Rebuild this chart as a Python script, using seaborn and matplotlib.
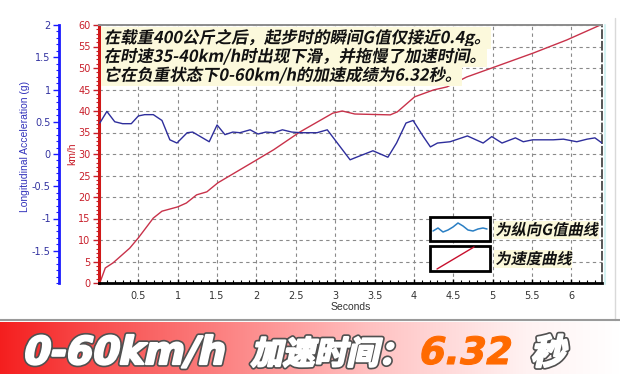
import numpy as np
import matplotlib
matplotlib.use("Agg")
import matplotlib.pyplot as plt
import seaborn as sns
from matplotlib.patheffects import AbstractPathEffect
from matplotlib.transforms import Affine2D
from matplotlib.patches import Rectangle
from matplotlib.lines import Line2D
from matplotlib.ticker import MultipleLocator

# ---------------- data ----------------
t_acc = [0.01, 0.10, 0.20, 0.30, 0.41, 0.50, 0.58, 0.69, 0.80, 0.90, 0.99, 1.12, 1.19,
         1.40, 1.50, 1.60, 1.70, 1.79, 1.92, 2.02, 2.12, 2.22, 2.33, 2.45, 2.56, 2.77,
         2.90, 3.19, 3.25, 3.48, 3.67, 3.78, 3.90, 3.99, 4.12, 4.21, 4.30, 4.46, 4.68,
         4.88, 4.99, 5.12, 5.29, 5.39, 5.51, 5.77, 5.90, 6.07, 6.20, 6.30, 6.39]
g_acc = [0.48, 0.66, 0.50, 0.47, 0.47, 0.59, 0.61, 0.61, 0.52, 0.22, 0.17, 0.33, 0.34,
         0.19, 0.45, 0.30, 0.34, 0.33, 0.375, 0.31, 0.34, 0.33, 0.375, 0.34, 0.33, 0.33,
         0.375, -0.09, -0.06, 0.05, -0.05, 0.17, 0.48, 0.52, 0.27, 0.11, 0.17, 0.19, 0.28,
         0.17, 0.27, 0.17, 0.25, 0.19, 0.22, 0.22, 0.23, 0.19, 0.23, 0.25, 0.17]

t_spd = [0.01, 0.08, 0.18, 0.39, 0.50, 0.69, 0.80, 1.00, 1.11, 1.24, 1.37, 1.51, 2.00,
         2.22, 2.55, 2.97, 3.09, 3.25, 3.70, 3.79, 4.01, 4.25, 4.42, 4.67, 4.99, 5.52,
         5.94, 6.37]
v_spd = [0.0, 3.5, 4.7, 8.1, 10.5, 15.1, 16.7, 17.7, 18.6, 20.5, 21.2, 23.3, 28.6,
         31.0, 35.1, 39.5, 40.0, 39.3, 39.1, 39.8, 43.3, 44.9, 45.6, 47.9, 50.0, 53.5,
         56.5, 60.0]

x_ticks = [0.5, 1, 1.5, 2, 2.5, 3, 3.5, 4, 4.5, 5, 5.5, 6]
x_labels = ["0.5", "1", "1.5", "2", "2.5", "3", "3.5", "4", "4.5", "5", "5.5", "6"]
kmh_ticks = [0, 5, 10, 15, 20, 25, 30, 35, 40, 45, 50, 55, 60]
g_ticks = [-1.5, -1, -0.5, 0, 0.5, 1, 1.5, 2]
g_labels = ["-1.5", "-1", "-0.5", "0", "0.5", "1", "1.5", "2"]

note_lines = ["在载重400公斤之后，起步时的瞬间G值仅接近0.4g。",
              "在时速35-40km/h时出现下滑，并拖慢了加速时间。",
              "它在负重状态下0-60km/h的加速成绩为6.32秒。"]
legend_labels = ["为纵向G值曲线", "为速度曲线"]
banner_parts = ["0-60km/h", "加速时间：", "6.32", "秒"]

# ---------------- style ----------------
sns.set_style("white")
plt.rcParams["font.family"] = ["DejaVu Sans"]
CJK = ["Noto Sans CJK SC", "DejaVu Sans"]

W, H = 620, 374
def fx(x): return x / W
def fy(y): return 1 - y / H


class ItalicFX(AbstractPathEffect):
    """Skew a text path to fake an italic, with optional strokes (drawn in order)."""
    def __init__(self, shear=0.2, strokes=()):
        super().__init__((0, 0))
        self.shear = shear
        self.strokes = strokes

    def draw_path(self, renderer, gc, tpath, affine, rgbFace=None):
        ext = tpath.transformed(affine).get_extents()
        y0 = ext.y0
        tr = affine + Affine2D().translate(0, -y0).skew(np.arctan(self.shear), 0).translate(0, y0)
        for col, lw in self.strokes:
            g1 = renderer.new_gc()
            g1.copy_properties(gc)
            g1.set_foreground(col)
            g1.set_linewidth(lw)
            g1.set_joinstyle("round")
            renderer.draw_path(g1, tpath, tr, None)
            g1.restore()
        renderer.draw_path(gc, tpath, tr, rgbFace)


fig = plt.figure(figsize=(6.2, 3.74), dpi=100)
fig.patch.set_facecolor("white")

# banner gradient
bax = fig.add_axes([0, 0, 1, 52 / H])
xs = np.linspace(0, 1, 620)
r = np.interp(xs, [0, 0.5, 1], [0.96, 1.0, 1.0])
gb = np.interp(xs, [0, 0.15, 0.4, 0.6, 0.85, 1.0], [0.12, 0.30, 0.55, 0.76, 0.95, 1.0])
img = np.stack([r, gb, gb], axis=-1)[None, :, :]
img = np.repeat(img, 10, axis=0)
bax.imshow(img, aspect="auto", extent=[0, 1, 0, 1])
bax.axis("off")

# main axes (speed)
RED = "#c81e2a"
BLUE_AX = "#1a1aff"
BLUE_LAB = "#3333a0"
ax = fig.add_axes([fx(99), fy(283), (602 - 99) / W, (283 - 25) / H])
ax.set_facecolor("white")
sns.lineplot(x=t_spd, y=v_spd, ax=ax, color="#c8324a", lw=1.0)
ax.set_xlim(0, 6.39)
ax.set_ylim(0, 60)
ax.set_xticks(x_ticks, x_labels)
ax.xaxis.set_minor_locator(MultipleLocator(0.1))
ax.set_yticks(kmh_ticks, [str(v) for v in kmh_ticks])
ax.yaxis.set_minor_locator(MultipleLocator(1))
ax.grid(True, which="major", linestyle=(0, (3, 3)), color="#8a8a8a", lw=0.8)
ax.tick_params(axis="y", which="major", left=True, colors=RED, length=4, width=1,
               direction="out", labelsize=7, pad=2)
ax.tick_params(axis="y", which="minor", left=True, colors=RED, length=2, width=0.8,
               direction="out")
ax.tick_params(axis="x", which="major", bottom=True, color="black", labelcolor="#333333",
               length=3, width=1, direction="in", labelsize=7, pad=6)
ax.tick_params(axis="x", which="minor", bottom=True, color="black", length=2,
               width=0.8, direction="in")
ax.spines["left"].set_color("#d01818")
ax.spines["left"].set_linewidth(2.2)
ax.spines["bottom"].set_color("black")
ax.spines["bottom"].set_linewidth(2.0)
ax.spines["top"].set_color("#8c8c8c")
ax.spines["top"].set_linewidth(1.4)
ax.spines["right"].set_color("#555555")
ax.spines["right"].set_linewidth(1.4)
ax.spines["right"].set_linestyle((0, (4, 2)))
ax.set_ylabel("km/h", color=RED, fontsize=7.5, family=["Liberation Sans"])
ax.yaxis.set_label_coords(-0.043, 0.5)
ax.set_xlabel("Seconds", color="#333333", fontsize=7.5, family=["Liberation Sans"])
ax.xaxis.set_label_coords(0.5, -0.075)

# twin axes (acceleration)
ax2 = ax.twinx()
sns.lineplot(x=t_acc, y=g_acc, ax=ax2, color="#2e2e9c", lw=1.0)
ax2.set_ylim(-2, 2)
ax2.set_xlim(0, 6.39)
ax2.yaxis.set_ticks_position("left")
ax2.yaxis.set_label_position("left")
ax2.spines["right"].set_visible(False)
ax2.spines["top"].set_visible(False)
ax2.spines["bottom"].set_visible(False)
ax2.spines["left"].set_visible(True)
ax2.spines["left"].set_position(("outward", 40 * 0.72))
ax2.spines["left"].set_color(BLUE_AX)
ax2.spines["left"].set_linewidth(2.0)
ax2.set_yticks(g_ticks, g_labels)
ax2.yaxis.set_minor_locator(MultipleLocator(0.1))
ax2.tick_params(axis="y", which="major", left=True, right=False, color=BLUE_AX,
                labelcolor=BLUE_LAB, length=4, width=1, direction="out", labelsize=7, pad=2)
ax2.tick_params(axis="y", which="minor", left=True, right=False, color=BLUE_AX,
                length=2, width=0.8, direction="out")
ax2.set_ylabel("Longitudinal Acceleration (g)", color="#3333bb", fontsize=7.5,
               family=["Liberation Sans"])
ax2.yaxis.set_label_coords(-0.137, 0.53)
ax2.grid(False)

# light cyan edge and window frame
fig.add_artist(Line2D([fx(605), fx(605)], [fy(25), fy(284)], color="#d4f2f2", lw=1.5))
fig.add_artist(Line2D([fx(615), fx(615)], [fy(18), fy(320)], color="#d9d9d9", lw=1.0))
fig.add_artist(Line2D([0, 1], [fy(320), fy(320)], color="#9a9a9a", lw=1.5))

# annotation lines
for i, line in enumerate(note_lines):
    fig.text(fx(103), fy(38 + i * 18.8), line, family=CJK, fontsize=11.8,
             fontweight="bold", color="#111111", ha="left", va="center",
             bbox=dict(facecolor="#fcf9dc", edgecolor="none", pad=1.2),
             path_effects=[ItalicFX(0.2)], zorder=5)

# legend boxes
for k, (ytop, ybot) in enumerate([(217, 241), (246, 271)]):
    fig.add_artist(Rectangle((fx(430), fy(ybot)), 60 / W, (ybot - ytop) / H,
                             facecolor="white", edgecolor="black", lw=2.0, zorder=5))
wave_x = [433, 438, 443, 448, 453, 458, 463, 468, 473, 478, 483, 487]
wave_y = [231, 228, 232, 230, 227, 223, 226, 230, 231, 229, 228, 229]
fig.add_artist(Line2D([fx(v) for v in wave_x], [fy(v) for v in wave_y],
                      color="#2a7fc4", lw=1.1, zorder=6))
fig.add_artist(Line2D([fx(437), fx(474)], [fy(269), fy(247)], color="#c8102e",
                      lw=1.0, zorder=6))
for lab, yc in zip(legend_labels, [230, 259]):
    fig.text(fx(495), fy(yc), lab, family=CJK, fontsize=11, fontweight="bold",
             color="#111111", ha="left", va="center",
             bbox=dict(facecolor="#fcf9dc", edgecolor="none", pad=0.8),
             path_effects=[ItalicFX(0.2)], zorder=6)

# banner texts
heavy = [("#505050", 4.0), ("white", 1.6)]
fig.text(fx(21), fy(364), banner_parts[0], fontsize=27.5, fontweight="bold",
         color="white", ha="left", va="baseline",
         path_effects=[ItalicFX(0.22, heavy)], zorder=7)
fig.text(fx(250), fy(364), banner_parts[1], family=CJK, fontsize=23, fontweight="heavy",
         color="white", ha="left", va="baseline",
         path_effects=[ItalicFX(0.22, heavy)], zorder=7)
fig.text(fx(417), fy(364), banner_parts[2], fontsize=27, fontweight="bold",
         color="#ff6a00", ha="left", va="baseline",
         path_effects=[ItalicFX(0.22, [("#ff6a00", 0.8)])], zorder=7)
fig.text(fx(530), fy(364), banner_parts[3], family=CJK, fontsize=25, fontweight="heavy",
         color="white", ha="left", va="baseline",
         path_effects=[ItalicFX(0.22, heavy)], zorder=7)

fig.savefig("out.png", dpi=100)
